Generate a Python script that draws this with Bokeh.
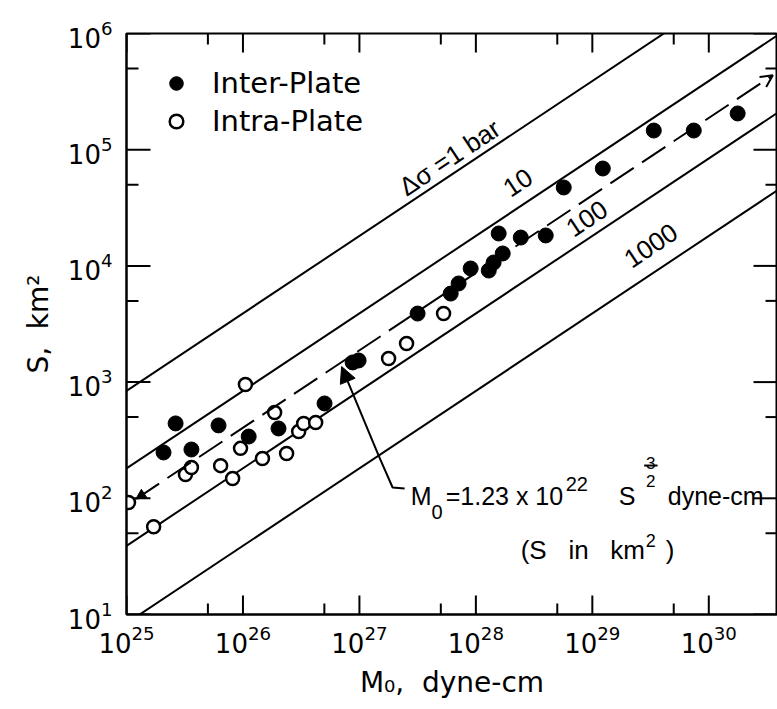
import math

from bokeh.plotting import figure
from bokeh.models import (FixedTicker, Label, Arrow, NormalHead, OpenHead,
                          Legend, LegendItem)
from bokeh.embed import file_html
from bokeh.resources import INLINE

# Inter-plate earthquakes: seismic moment (dyne-cm) and fault area (km^2)
inter_m0 = [2.08e25, 2.64e25, 3.61e25, 6.17e25, 1.12e26, 2.02e26, 5.02e26, 8.75e26,
            9.84e26, 3.16e27, 6.08e27, 7.11e27, 9.02e27, 1.29e28, 1.42e28, 1.70e28,
            1.57e28, 2.43e28, 3.98e28, 5.68e28, 1.23e29, 3.37e29, 7.43e29, 1.77e30]
inter_s = [248, 441, 263, 424, 340, 399, 655, 1476,
           1535, 3890, 5780, 7060, 9500, 9120, 10690, 12790,
           19010, 17540, 18280, 47300, 68900, 146200, 146200, 205100]

# Intra-plate earthquakes
intra_m0 = [1.04e25, 1.71e25, 3.21e25, 3.61e25, 6.43e25, 8.15e25, 9.53e25, 1.05e26,
            1.47e26, 1.87e26, 2.37e26, 3.01e26, 3.32e26, 4.21e26, 1.78e27, 2.54e27,
            5.28e27]
intra_s = [92, 57, 160, 184, 191, 148, 269, 953,
           220, 547, 243, 376, 441, 449, 1596, 2148,
           3890]

# Constant stress-drop lines for a circular crack: M0 = 16/(7 pi^1.5) * dsigma * S^1.5
stress_drops = [1, 10, 100, 1000]          # bars
stress_labels = ["\u0394\u03c3 =1 bar", "10", "100", "1000"]
C_CIRC = 16.0 / (7.0 * math.pi ** 1.5) * 1e6 * 1e15   # dyne-cm per (bar * km^3)
# Empirical fit  M0 = 1.23e22 S^(3/2)
C_FIT = 1.23e22

x_ticks = [1e25, 1e26, 1e27, 1e28, 1e29, 1e30]
x_minor = [5e25, 5e26, 5e27, 5e28, 5e29]
y_ticks = [1e1, 1e2, 1e3, 1e4, 1e5, 1e6]
y_minor = [5e1, 5e2, 5e3, 5e4, 5e5]

X_MIN, X_MAX = 1e25, 10 ** 30.59
Y_MIN, Y_MAX = 1e1, 1e6

FONT = "DejaVu Sans"
NOTE_FONT = "Liberation Sans"
NB = "\u00a0"   # non-breaking space, keeps wide gaps in SVG text

W, H = 777, 709
LEFT, RIGHT, TOP, BOTTOM = 126, 0, 33, 95


def area_for(m0, c):
    return (m0 / c) ** (2.0 / 3.0)


p = figure(width=W, height=H, x_axis_type="log", y_axis_type="log",
           x_range=(X_MIN, X_MAX), y_range=(Y_MIN, Y_MAX),
           output_backend="svg", toolbar_location=None,
           min_border_left=LEFT, min_border_right=RIGHT,
           min_border_top=TOP, min_border_bottom=BOTTOM)
p.grid.visible = False
p.outline_line_color = "black"
p.outline_line_width = 2
p.background_fill_color = "white"
p.border_fill_color = "white"

xa, ya = p.xaxis[0], p.yaxis[0]
xa.ticker = FixedTicker(ticks=x_ticks, minor_ticks=x_minor)
ya.ticker = FixedTicker(ticks=y_ticks, minor_ticks=y_minor)
for ax in (xa, ya):
    ax.axis_line_width = 2
    ax.axis_line_color = "black"
    ax.major_tick_in = 0
    ax.major_tick_out = 0
    ax.minor_tick_in = 0
    ax.minor_tick_out = 0
    ax.major_label_text_font = FONT
    ax.major_label_text_font_size = "26px"
    ax.major_label_text_color = "black"
    ax.axis_label_text_font = FONT
    ax.axis_label_text_font_size = "28px"
    ax.axis_label_text_font_style = "normal"
    ax.axis_label_text_color = "black"
    ax.axis_label_standoff = 10
xa.major_label_standoff = 10
ya.major_label_standoff = 14
xa.axis_label = "M\u2080," + NB * 2 + "dyne-cm"
ya.axis_label = "S," + NB * 2 + "km\u00b2"

# Inward tick marks on all four sides of the frame (lengths in pixels)
x_dec = (W - LEFT - RIGHT) / math.log10(X_MAX / X_MIN)   # px per decade
y_dec = (H - TOP - BOTTOM) / math.log10(Y_MAX / Y_MIN)


def x_ticks_on_edges(ticks, length):
    f = 10 ** (length / y_dec)
    xs = [[t, t] for t in ticks] * 2
    ys = [[Y_MIN, Y_MIN * f] for _ in ticks] + [[Y_MAX, Y_MAX / f] for _ in ticks]
    p.multi_line(xs, ys, line_color="black", line_width=2)


def y_ticks_on_edges(ticks, length):
    f = 10 ** (length / x_dec)
    ys = [[t, t] for t in ticks] * 2
    xs = [[X_MIN, X_MIN * f] for _ in ticks] + [[X_MAX, X_MAX / f] for _ in ticks]
    p.multi_line(xs, ys, line_color="black", line_width=2)


x_ticks_on_edges(x_ticks, 19)
x_ticks_on_edges(x_minor, 11)
y_ticks_on_edges(y_ticks, 24)
y_ticks_on_edges(y_minor, 12)

# Stress-drop reference lines
xs_line = [X_MIN, X_MAX]
for ds in stress_drops:
    p.line(xs_line, [area_for(x, C_CIRC * ds) for x in xs_line],
           line_color="black", line_width=2)

# Labels sitting just above each stress-drop line (rotated to the line slope)
label_logm = [27.775, 28.359, 28.952, 29.502]
label_lift = [0.158, 0.221, 0.182, 0.250]     # decades above the line
angle = math.atan(2.0 / 3.0)
for ds, txt, lm, lift in zip(stress_drops, stress_labels, label_logm, label_lift):
    xm = 10 ** lm
    ys = area_for(xm, C_CIRC * ds) * 10 ** lift
    p.add_layout(Label(x=xm, y=ys, text=txt, angle=angle,
                       text_align="center", text_baseline="middle",
                       text_font=NOTE_FONT, text_font_size="26px",
                       text_color="black"))

# Empirical fit: dashed line with arrow heads at both ends
fit_x0, fit_x1 = 10 ** 25.08, 10 ** 30.55
p.add_layout(Arrow(x_start=fit_x0, y_start=area_for(fit_x0, C_FIT),
                   x_end=fit_x1, y_end=area_for(fit_x1, C_FIT),
                   start=NormalHead(size=10, fill_color="black", line_color="black", line_width=1),
                   end=OpenHead(size=12, line_color="black", line_width=2),
                   line_color="black", line_width=2, line_dash="28 10"))

# Data points
inter_r = p.scatter(inter_m0, inter_s, marker="circle", size=15,
                    fill_color="black", line_color="black", line_width=1)
intra_r = p.scatter(intra_m0, intra_s, marker="circle", size=13,
                    fill_color="white", line_color="black", line_width=2.5)

legend = Legend(items=[LegendItem(label="Inter-Plate", renderers=[inter_r]),
                       LegendItem(label="Intra-Plate", renderers=[intra_r])],
                location="top_left", margin=33, padding=0, spacing=4,
                glyph_width=34, glyph_height=34, label_height=34,
                label_standoff=19, label_text_font=FONT,
                label_text_font_size="29px", label_text_color="black",
                border_line_alpha=0, background_fill_alpha=0)
p.add_layout(legend)

# Leader from the formula to the dashed fit line
lead = [(27.165, 2.368), (27.285, 2.093), (27.388, 2.084)]
p.add_layout(Arrow(x_start=10 ** 27.165, y_start=10 ** 2.368,
                   x_end=10 ** 26.847, y_end=10 ** 3.134,
                   end=NormalHead(size=16, fill_color="black", line_color="black"),
                   line_color="black", line_width=2))
p.line([10 ** a for a, _ in lead], [10 ** b for _, b in lead],
       line_color="black", line_width=2)

# Formula text, assembled piece by piece (sub/superscripts and stacked fraction)
pieces = [
    ("M", 27.440, 2.024, "25px", "left"),
    ("0", 27.620, 1.878, "20px", "left"),
    ("=1.23 x 10", 27.741, 2.024, "25px", "left"),
    ("22", 28.771, 2.127, "20px", "left"),
    ("S", 29.227, 2.024, "25px", "left"),
    ("3", 29.502, 2.308, "17px", "center"),
    ("2", 29.502, 2.153, "17px", "center"),
    ("dyne-cm", 29.648, 2.024, "25px", "left"),
    ("(S" + NB * 3 + "in" + NB * 3 + "km", 28.385, 1.559, "26px", "left"),
    ("2", 29.459, 1.637, "18px", "left"),
    (")", 29.631, 1.559, "26px", "left"),
]
for txt, lm, ls, size, align in pieces:
    p.add_layout(Label(x=10 ** lm, y=10 ** ls, text=txt, text_align=align,
                       text_baseline="alphabetic", text_font=NOTE_FONT,
                       text_font_size=size, text_color="black"))
p.line([10 ** 29.445, 10 ** 29.560], [10 ** 2.282, 10 ** 2.282],
       line_color="black", line_width=2)

open("out.html", "w").write(file_html(p, INLINE))
